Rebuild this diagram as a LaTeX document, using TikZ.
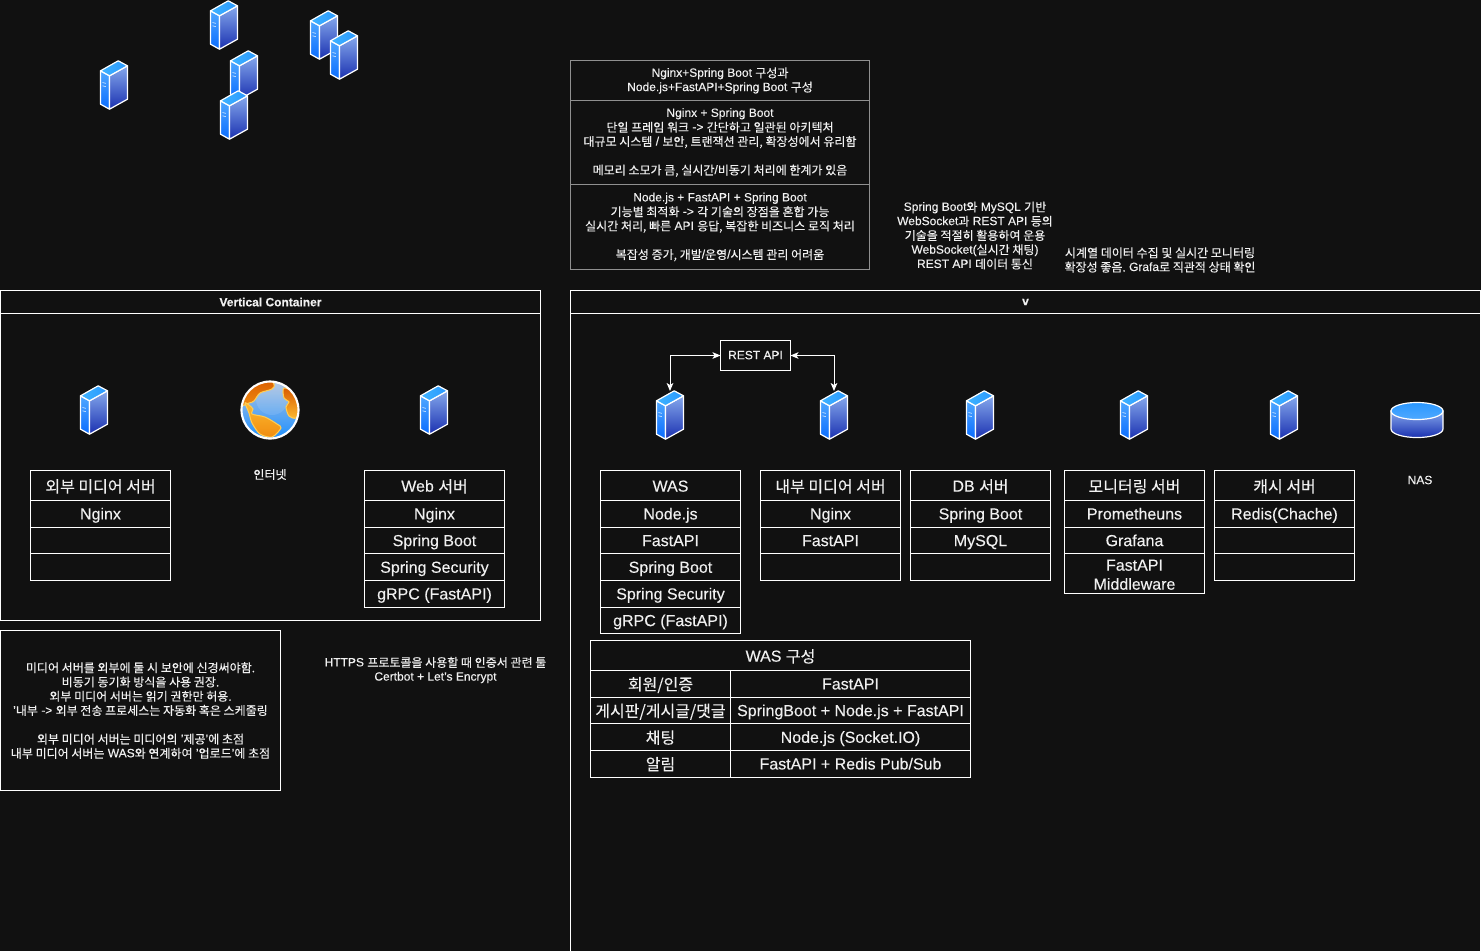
\documentclass[tikz,border=0pt]{standalone}
\usepackage{fontspec}
\setmainfont{Liberation Sans}[FakeBold=0.2]
\newfontfamily\krfont{Noto Sans CJK KR}[FakeBold=0.2]
\newcommand{\kr}[1]{\raisebox{-0.05em}{\krfont #1}}
\usepackage{xcolor}
\usepackage{tikz}
\usetikzlibrary{arrows.meta, positioning}
\definecolor{pagebg}{HTML}{111111}
\definecolor{labelcol}{HTML}{F0F0F0}
\definecolor{notegray}{HTML}{909090}
\definecolor{sideltop}{HTML}{4FA8FF}
\definecolor{sidelbot}{HTML}{0A6CFF}
\definecolor{siderTop}{HTML}{85A8EC}
\definecolor{siderBot}{HTML}{1A30B0}
\definecolor{roofa}{HTML}{3FB4FF}
\definecolor{roofb}{HTML}{2A98FF}
\definecolor{seatop}{HTML}{B0C4E0}
\definecolor{seabot}{HTML}{1E90FF}
\definecolor{landdark}{HTML}{D85A00}
\definecolor{landmid}{HTML}{F08C10}
\definecolor{landgold}{HTML}{FDBA30}
\definecolor{landedge}{HTML}{FFCC55}

\begin{document}
\begin{tikzpicture}[
    x=0.75pt, y=-0.75pt,
    text=labelcol,
    font=\fontsize{9}{10.7}\selectfont,
    lane/.style={rectangle, draw=white, line width=0.75pt, inner sep=0pt, outer sep=0pt, anchor=north west},
    lanetitle/.style={rectangle, draw=white, line width=0.75pt, inner sep=0pt, outer sep=0pt, minimum height=17.25pt, anchor=north, font=\fontsize{9}{10.7}\selectfont\bfseries},
    headcell/.style={rectangle, draw=white, line width=0.75pt, inner sep=0pt, outer sep=0pt, minimum width=105pt, minimum height=22.5pt, text height=10.4pt, text depth=1.2pt, font=\fontsize{12}{14.25}\selectfont},
    rowcell/.style={headcell, minimum height=20pt, text height=9.8pt, text depth=1.4pt},
    tallcell/.style={rectangle, draw=white, line width=0.75pt, inner sep=0pt, outer sep=0pt, minimum width=105pt, minimum height=30pt, align=center, font=\fontsize{12}{14.25}\selectfont},
    notebox/.style={rectangle, draw=notegray, line width=0.75pt, inner sep=0pt, outer sep=0pt, minimum width=224.25pt, align=center},
    plainlabel/.style={align=center, inner sep=0pt},
    iconbox/.style={rectangle, inner sep=0pt, outer sep=0pt, minimum width=21pt, minimum height=36pt},
    arrow/.style={{Stealth[length=6pt,width=5pt,inset=1.5pt]}-{Stealth[length=6pt,width=5pt,inset=1.5pt]}, white, line width=0.75pt},
    server/.pic={
        \shadedraw[draw=white, line width=0.9pt, line join=round, top color=sideltop, bottom color=sidelbot] (-13.5,-14.2) -- (-4.5,-9.2) -- (-4.5,24.2) -- (-13.5,19.2) -- cycle;
        \shadedraw[draw=white, line width=0.9pt, line join=round, top color=siderTop, bottom color=siderBot] (-4.5,-9.2) -- (13.5,-19.2) -- (13.5,14.2) -- (-4.5,24.2) -- cycle;
        \shadedraw[draw=white, line width=0.9pt, line join=round, left color=roofa, right color=roofb] (-13.5,-14.2) -- (4.2,-24.2) -- (13.5,-19.2) -- (-4.5,-9.2) -- cycle;
        \draw[white!70!sideltop, line width=0.5pt] (-11.5,-2.5) -- (-8.2,-1.7);
        \draw[white!70!sideltop, line width=0.5pt] (-11.5,0.8) -- (-8.2,1.6);
    },
    globe/.pic={
        \shade[top color=seatop, bottom color=seabot] (0,0) circle (28.5);
        \begin{scope}
            \clip (0,0) circle (28.5);
            \fill[white, opacity=0.1] (2,-11) circle (16);
            \shadedraw[draw=landedge, line width=0.8pt, top color=landdark, bottom color=landmid] plot[smooth cycle] coordinates {(-32,-4) (-27,-24) (-5,-33) (4,-26) (2,-21) (-10,-17) (-16,-9) (-21,-7)};
            \shadedraw[draw=landedge, line width=0.8pt, top color=landdark, bottom color=landgold] plot[smooth cycle] coordinates {(14,-22) (28,-16) (33,0) (26,8) (19,6) (16,-3) (19,-8) (14,-12)};
            \shadedraw[draw=landedge, line width=0.8pt, top color=landgold, bottom color=landmid] plot[smooth cycle] coordinates {(-25,-7) (-21,-5) (-17,-1) (-18,4) (-5,7) (7,14) (11,18) (2,27) (-10,24) (-18,13) (-21,3)};
        \end{scope}
        \draw[white, line width=1.6pt] (0,0) circle (28.5);
    },
    nasdisk/.pic={
        \shadedraw[draw=white, line width=0.9pt, top color=siderTop, bottom color=siderBot] (-26,-9) -- (-26,9) arc[start angle=180, end angle=360, x radius=19.5pt, y radius=6.4pt] -- (26,-9) -- cycle;
        \shadedraw[draw=white, line width=0.9pt, top color=roofb, bottom color=sideltop] (0,-9) ellipse [x radius=19.5pt, y radius=6.4pt];
    }
]
    \fill[pagebg] (0,0) rectangle (1481,951);
    \clip (0,0) rectangle (1481,951);

    % Icons on top
    \node[iconbox] (spare1) at (114,85) {}; \pic at (spare1) {server};
    \node[iconbox] (spare2) at (224,25) {}; \pic at (spare2) {server};
    \node[iconbox] (spare3) at (324,35) {}; \pic at (spare3) {server};
    \node[iconbox] (spare4) at (344,55) {}; \pic at (spare4) {server};
    \node[iconbox] (spare5) at (244,75) {}; \pic at (spare5) {server};
    \node[iconbox] (spare6) at (234,115) {}; \pic at (spare6) {server};

    % Comparison table
    \node[notebox, minimum height=30pt, anchor=north west] (notehead) at (570.5,60.5) {Nginx+Spring Boot \kr{구성과}\\Node.js+FastAPI+Spring Boot \kr{구성}};
    \node[notebox, minimum height=63pt, below=0pt of notehead] (notenginx) {Nginx + Spring Boot\\\kr{단일 프레임 워크} -> \kr{간단하고 일관된 아키텍처}\\\kr{대규모 시스템} / \kr{보안, 트랜잭션 관리, 확장성에서 유리함}\\~\\\kr{메모리 소모가 큼, 실시간}/\kr{비동기 처리에 한계가 있음}};
    \node[notebox, minimum height=63.75pt, below=0pt of notenginx] (notenode) {Node.js + FastAPI + Spring Boot\\\kr{기능별 최적화} -> \kr{각 기술의 장점을 혼합 가능}\\\kr{실시간 처리, 빠른} API \kr{응답, 복잡한 비즈니스 로직 처리}\\~\\\kr{복잡성 증가, 개발}/\kr{운영}/\kr{시스템 관리 어려움}};

    % Notes above the main lane
    \node[plainlabel] (dbnote) at (975,235.5) {Spring Boot\kr{와} MySQL \kr{기반}\\WebSocket\kr{과} REST API \kr{등의}\\\kr{기술을 적절히 활용하여 운용}\\WebSocket(\kr{실시간 채팅})\\REST API \kr{데이터 통신}};
    \node[plainlabel] (monnote) at (1160,260) {\kr{시계열 데이터 수집 및 실시간 모니터링}\\\kr{확장성 좋음.} Grafa\kr{로 직관적 상태 확인}};

    % Left lane
    \node[lane, minimum width=405pt, minimum height=247.5pt] (leftlane) at (0.5,290.5) {};
    \node[lanetitle, minimum width=405pt] (lefttitle) at (leftlane.north) {Vertical Container};

    \node[iconbox] (exticon) at (94,410) {}; \pic at (exticon) {server};
    \node[iconbox, minimum width=44pt, minimum height=44pt] (netglobe) at (270,410) {}; \pic at (netglobe) {globe};
    \node[iconbox] (webicon) at (434,410) {}; \pic at (webicon) {server};
    \node[plainlabel] (netlabel) at (270,474.5) {\kr{인터넷}};

    \node[headcell, anchor=north west] (exthead) at (30.5,470.5) {\kr{외부 미디어 서버}};
    \node[rowcell, below=0pt of exthead] (extrow1) {Nginx};
    \node[rowcell, below=0pt of extrow1] (extrow2) {};
    \node[rowcell, below=0pt of extrow2] (extrow3) {};

    \node[headcell, anchor=north west] (webhead) at (364.5,470.5) {Web \kr{서버}};
    \node[rowcell, below=0pt of webhead] (webrow1) {Nginx};
    \node[rowcell, below=0pt of webrow1] (webrow2) {Spring Boot};
    \node[rowcell, below=0pt of webrow2] (webrow3) {Spring Security};
    \node[rowcell, below=0pt of webrow3] (webrow4) {gRPC (FastAPI)};

    % Notes under the left lane
    \node[rectangle, draw=white, line width=0.75pt, inner sep=0pt, outer sep=0pt, minimum width=210pt, minimum height=120pt, align=center, anchor=north west] (medianote) at (0.5,630.5) {\kr{미디어 서버를 외부에 둘 시 보안에 신경써야함.}\\\kr{비동기 동기화 방식을 사용 권장.}\\\kr{외부 미디어 서버는 읽기 권한만 허용.}\\'\kr{내부} -> \kr{외부 전송 프로세스는 자동화 혹은 스케줄링}\\~\\\kr{외부 미디어 서버는 미디어의} '\kr{제공}'\kr{에 초점}\\\kr{내부 미디어 서버는} WAS\kr{와 연계하여} '\kr{업로드}'\kr{에 초점}};
    \node[plainlabel] (httpsnote) at (435.5,670) {HTTPS \kr{프로토콜을 사용할 때 인증서 관련 툴}\\Certbot + Let's Encrypt};

    % Right lane
    \node[lane, minimum width=682.5pt, minimum height=520pt] (rightlane) at (570.5,290.5) {};
    \node[lanetitle, minimum width=682.5pt] (righttitle) at (rightlane.north) {v};

    \node[iconbox] (wasicon) at (670,415) {}; \pic at (wasicon) {server};
    \node[iconbox] (inticon) at (834,415) {}; \pic at (inticon) {server};
    \node[iconbox] (dbicon) at (980,415) {}; \pic at (dbicon) {server};
    \node[iconbox] (monicon) at (1134,415) {}; \pic at (monicon) {server};
    \node[iconbox] (cacheicon) at (1284,415) {}; \pic at (cacheicon) {server};
    \node[iconbox, minimum width=40pt, minimum height=27pt] (nasicon) at (1417,420) {}; \pic at (nasicon) {nasdisk};
    \node[plainlabel] (naslabel) at (1420,480) {NAS};

    \node[rectangle, draw=white, line width=0.75pt, outer sep=0pt, minimum width=52.5pt, minimum height=22.5pt, inner sep=0pt] (restapi) at (755.5,355.5) {\raisebox{0.7pt}{REST API}};
    \draw[arrow] (restapi.west) -| (wasicon.north);
    \draw[arrow] (restapi.east) -| (inticon.north);

    \node[headcell, anchor=north west] (washead) at (600.5,470.5) {WAS};
    \node[rowcell, below=0pt of washead] (wasrow1) {Node.js};
    \node[rowcell, below=0pt of wasrow1] (wasrow2) {FastAPI};
    \node[rowcell, below=0pt of wasrow2] (wasrow3) {Spring Boot};
    \node[rowcell, below=0pt of wasrow3] (wasrow4) {Spring Security};
    \node[rowcell, below=0pt of wasrow4] (wasrow5) {gRPC (FastAPI)};

    \node[headcell, anchor=north west] (inthead) at (760.5,470.5) {\kr{내부 미디어 서버}};
    \node[rowcell, below=0pt of inthead] (introw1) {Nginx};
    \node[rowcell, below=0pt of introw1] (introw2) {FastAPI};
    \node[rowcell, below=0pt of introw2] (introw3) {};

    \node[headcell, anchor=north west] (dbhead) at (910.5,470.5) {DB \kr{서버}};
    \node[rowcell, below=0pt of dbhead] (dbrow1) {Spring Boot};
    \node[rowcell, below=0pt of dbrow1] (dbrow2) {MySQL};
    \node[rowcell, below=0pt of dbrow2] (dbrow3) {};

    \node[headcell, anchor=north west] (monhead) at (1064.5,470.5) {\kr{모니터링 서버}};
    \node[rowcell, below=0pt of monhead] (monrow1) {Prometheuns};
    \node[rowcell, below=0pt of monrow1] (monrow2) {Grafana};
    \node[tallcell, below=0pt of monrow2] (monrow3) {\rule{0pt}{9.6pt}FastAPI\\Middleware};

    \node[headcell, anchor=north west] (cachehead) at (1214.5,470.5) {\kr{캐시 서버}};
    \node[rowcell, below=0pt of cachehead] (cacherow1) {Redis(Chache)};
    \node[rowcell, below=0pt of cacherow1] (cacherow2) {};
    \node[rowcell, below=0pt of cacherow2] (cacherow3) {};

    % WAS table
    \node[headcell, minimum width=285pt, anchor=north west] (confhead) at (590.5,640.5) {WAS \kr{구성}};
    \node[rowcell, below right=0pt of confhead.south west] (authname) {\kr{회원/인증}};
    \node[rowcell, minimum width=180pt, right=0pt of authname] (authtech) {FastAPI};
    \node[rowcell, below=0pt of authname] (boardname) {\kr{게시판/게시글/댓글}};
    \node[rowcell, minimum width=180pt, right=0pt of boardname] (boardtech) {SpringBoot + Node.js + FastAPI};
    \node[rowcell, below=0pt of boardname] (chatname) {\kr{채팅}};
    \node[rowcell, minimum width=180pt, right=0pt of chatname] (chattech) {Node.js (Socket.IO)};
    \node[rowcell, below=0pt of chatname] (alertname) {\kr{알림}};
    \node[rowcell, minimum width=180pt, right=0pt of alertname] (alerttech) {FastAPI + Redis Pub/Sub};
\end{tikzpicture}
\end{document}
